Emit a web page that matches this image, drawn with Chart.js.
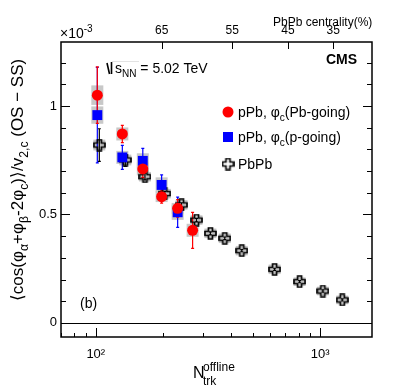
<!DOCTYPE html>
<html>
<head>
<meta charset="utf-8">
<script src="https://cdn.jsdelivr.net/npm/chart.js@4.4.0/dist/chart.umd.min.js"></script>
<style>
  html, body { margin: 0; padding: 0; background: #fff; }
  canvas { display: block; }
</style>
</head>
<body>
<canvas id="chart" width="399" height="390"></canvas>
<script>
// pPb, phi_c in Pb-going direction
const pbGoingN = [101.6, 131.3, 162, 196.5, 231.6, 270]
const pbGoingV = [1.05, 0.871, 0.71, 0.582, 0.528, 0.427]
const pbGoingStat = [0.13, 0.04, 0.04, 0.03, 0.04, 0.083]
const pbGoingSys = [0.045, 0.03, 0.03, 0.025, 0.025, 0.03]

// pPb, phi_c in p-going direction
const pGoingN = [101.6, 131.3, 162, 196.5, 231.6]
const pGoingV = [0.958, 0.763, 0.747, 0.636, 0.51]
const pGoingStat = [0.22, 0.055, 0.058, 0.046, 0.07]
const pGoingSys = [0.04, 0.03, 0.035, 0.035, 0.035]

// PbPb
const pbpbN = [103.7, 135.4, 165.6, 203, 241, 281, 324, 375.5, 447, 626, 809, 1027, 1253]
const pbpbV = [0.82, 0.751, 0.674, 0.596, 0.544, 0.474, 0.413, 0.39, 0.333, 0.247, 0.19, 0.147, 0.106]
const pbpbStat = [0.075, 0.03, 0.015, 0.01, 0.01, 0.008, 0.007, 0.006, 0.005, 0.005, 0.005, 0.005, 0.005]
const pbpbSys = [0.025, 0.025, 0.022, 0.022, 0.022, 0.022, 0.022, 0.022, 0.022, 0.022, 0.02, 0.02, 0.02]

// top axis: PbPb centrality
const centralityN = [196.5, 405, 718, 1142]
const centralityLabels = ['65', '55', '45', '35']

const yTicks = [0, 0.5, 1]
const xTicks = [100, 1000]
const xTickLabels = ['10²', '10³']

const FONT = '"Liberation Sans", Arial, Helvetica, sans-serif'
Chart.defaults.font.family = FONT
Chart.defaults.color = '#000'

function plusMarker(size, arm) {
  const c = document.createElement('canvas')
  c.width = size + 2
  c.height = size + 2
  const g = c.getContext('2d')
  const o = 1, a = (size - arm) / 2
  g.beginPath()
  g.moveTo(o + a, o); g.lineTo(o + a + arm, o); g.lineTo(o + a + arm, o + a)
  g.lineTo(o + size, o + a); g.lineTo(o + size, o + a + arm); g.lineTo(o + a + arm, o + a + arm)
  g.lineTo(o + a + arm, o + size); g.lineTo(o + a, o + size); g.lineTo(o + a, o + a + arm)
  g.lineTo(o, o + a + arm); g.lineTo(o, o + a); g.lineTo(o + a, o + a)
  g.closePath()
  g.lineWidth = 1.7
  g.strokeStyle = '#000'
  g.stroke()
  return c
}
const plus = plusMarker(11, 4)

const series = [
  { n: pbGoingN, v: pbGoingV, stat: pbGoingStat, sys: pbGoingSys, color: '#ff0000' },
  { n: pGoingN, v: pGoingV, stat: pGoingStat, sys: pGoingSys, color: '#0000ff' },
  { n: pbpbN, v: pbpbV, stat: pbpbStat, sys: pbpbSys, color: '#000000' }
]

function pts(n, v) { return n.map((x, i) => ({ x, y: v[i] })) }

// rich text: parts = [[text, 'sub'|'sup'|'', size?]]
function drawRich(ctx, parts, x, y, size) {
  for (const [t, s, fsz] of parts) {
    const fs = fsz || (s ? size * 0.72 : size)
    ctx.font = fs + 'px ' + FONT
    const dy = s === 'sub' ? size * 0.3 : s === 'sup' ? -size * 0.42 : 0
    ctx.fillText(t, x, y + dy)
    x += ctx.measureText(t).width
  }
  return x
}
function richWidth(ctx, parts, size) {
  let w = 0
  for (const [t, s, fsz] of parts) {
    ctx.font = (fsz || (s ? size * 0.72 : size)) + 'px ' + FONT
    w += ctx.measureText(t).width
  }
  return w
}

const boxesAndErrors = {
  id: 'boxesAndErrors',
  beforeDatasetsDraw(chart) {
    const { ctx, scales: { x, y } } = chart
    ctx.save()
    ctx.fillStyle = '#c8c8c8'
    for (const s of series.slice().reverse()) {
      s.n.forEach((n, i) => {
        const px = x.getPixelForValue(n)
        const top = y.getPixelForValue(s.v[i] + s.sys[i])
        const bot = y.getPixelForValue(s.v[i] - s.sys[i])
        ctx.fillRect(px - 6, top, 12, bot - top)
      })
    }
    ctx.lineWidth = 1.2
    for (const s of series.slice().reverse()) {
      ctx.strokeStyle = s.color
      s.n.forEach((n, i) => {
        const px = x.getPixelForValue(n)
        const top = y.getPixelForValue(s.v[i] + s.stat[i])
        const bot = y.getPixelForValue(s.v[i] - s.stat[i])
        ctx.beginPath()
        ctx.moveTo(px, top); ctx.lineTo(px, bot)
        ctx.moveTo(px - 1.5, top); ctx.lineTo(px + 1.5, top)
        ctx.moveTo(px - 1.5, bot); ctx.lineTo(px + 1.5, bot)
        ctx.stroke()
      })
    }
    ctx.restore()
  }
}

const frameAndText = {
  id: 'frameAndText',
  afterDraw(chart) {
    const { ctx, chartArea: a, scales: { x, y } } = chart
    ctx.save()
    ctx.strokeStyle = '#000'
    ctx.fillStyle = '#000'
    // zero line
    ctx.lineWidth = 1.2
    const y0 = Math.round(y.getPixelForValue(0)) + 0.5
    ctx.beginPath(); ctx.moveTo(a.left, y0); ctx.lineTo(a.right, y0); ctx.stroke()
    // ticks
    ctx.lineWidth = 1
    ctx.beginPath()
    for (let k = 0; k <= 12; k++) {
      const v = k / 10
      const py = Math.round(y.getPixelForValue(v)) + 0.5
      const len = k % 5 === 0 ? 9 : 5
      ctx.moveTo(a.left, py); ctx.lineTo(a.left + len, py)
      ctx.moveTo(a.right, py); ctx.lineTo(a.right - len, py)
    }
    for (let d = 10; d <= 1000; d *= 10) {
      for (let m = 1; m <= 9; m++) {
        const v = d * m
        if (v < x.min || v > x.max) continue
        const px = Math.round(x.getPixelForValue(v)) + 0.5
        const len = m === 1 ? 9 : 4
        ctx.moveTo(px, a.bottom); ctx.lineTo(px, a.bottom - len)
      }
    }
    for (const c of centralityN) {
      const px = Math.round(x.getPixelForValue(c)) + 0.5
      ctx.moveTo(px, a.top); ctx.lineTo(px, a.top + 7)
    }
    ctx.stroke()
    // frame
    ctx.lineWidth = 1.5
    ctx.strokeRect(a.left, a.top, a.right - a.left, a.bottom - a.top)

    ctx.textBaseline = 'alphabetic'
    ctx.textAlign = 'left'
    // x10^-3
    drawRich(ctx, [['×10', ''], ['-3', 'sup', 10]], 60, 38, 14)
    // centrality title
    ctx.font = '12px ' + FONT
    ctx.fillText('PbPb centrality(%)', 273, 26)
    // CMS
    ctx.font = 'bold 14px ' + FONT
    ctx.fillText('CMS', 326, 64)
    // sqrt(sNN)
    ctx.lineWidth = 1.6
    ctx.beginPath()
    ctx.moveTo(107, 63); ctx.lineTo(109.5, 74); ctx.moveTo(111.5, 62); ctx.lineTo(111.5, 74)
    ctx.stroke()
    ctx.lineWidth = 0.6
    ctx.strokeStyle = '#d0d0d0'
    ctx.beginPath(); ctx.moveTo(112, 61.5); ctx.lineTo(139, 61.5); ctx.stroke()
    ctx.strokeStyle = '#000'
    drawRich(ctx, [['s', ''], ['NN', 'sub', 10], [' = 5.02 TeV', '']], 115, 73, 14)
    // (b)
    ctx.font = '14px ' + FONT
    ctx.fillText('(b)', 80, 308)
    // legend
    ctx.fillStyle = '#ff0000'
    ctx.beginPath(); ctx.arc(228, 112, 5.5, 0, Math.PI * 2); ctx.fill()
    ctx.fillStyle = '#0000ff'
    ctx.fillRect(223, 132, 10, 10)
    ctx.drawImage(plus, 228 - plus.width / 2, 164 - plus.height / 2)
    ctx.fillStyle = '#000'
    drawRich(ctx, [['pPb, φ', ''], ['c', 'sub'], ['(Pb-going)', '']], 238, 117, 14)
    drawRich(ctx, [['pPb, φ', ''], ['c', 'sub'], ['(p-going)', '']], 238, 142, 14)
    drawRich(ctx, [['PbPb', '']], 238, 169, 14)
    // x title
    drawRich(ctx, [['N', '', 16]], 193, 378, 16)
    drawRich(ctx, [['offline', '', 12]], 203, 371, 12)
    drawRich(ctx, [['trk', '', 12]], 203, 385, 12)
    // y title
    const yParts = [['⟨cos(φ', ''], ['α', 'sub'], ['+φ', ''], ['β', 'sub'], ['-2φ', ''], ['c', 'sub'],
      [')⟩/v', ''], ['2,c', 'sub'], [' (OS − SS)', '']]
    const ys = 17
    const w = richWidth(ctx, yParts, ys)
    ctx.translate(23, 180)
    ctx.rotate(-Math.PI / 2)
    drawRich(ctx, yParts, -w / 2, 0, ys)
    ctx.restore()
  }
}

new Chart(document.getElementById('chart'), {
  type: 'scatter',
  data: {
    datasets: [
      { label: 'pPb, φc(Pb-going)', data: pts(pbGoingN, pbGoingV), pointStyle: 'circle', pointRadius: 5.5,
        backgroundColor: '#ff0000', borderColor: '#ff0000', borderWidth: 0 },
      { label: 'pPb, φc(p-going)', data: pts(pGoingN, pGoingV), pointStyle: 'rect', pointRadius: 7,
        backgroundColor: '#0000ff', borderColor: '#0000ff', borderWidth: 0 },
      { label: 'PbPb', data: pts(pbpbN, pbpbV), pointStyle: plus, pointRadius: 6 }
    ]
  },
  options: {
    responsive: false,
    animation: false,
    events: [],
    layout: { padding: 0 },
    plugins: { legend: { display: false }, tooltip: { enabled: false } },
    scales: {
      x: {
        type: 'logarithmic', position: 'bottom', min: 70, max: 1700,
        afterFit: s => { s.height = 53 },
        afterBuildTicks: s => { s.ticks = xTicks.map(v => ({ value: v })) },
        grid: { display: false, drawTicks: false }, border: { display: false },
        ticks: { padding: 10, font: { size: 13 }, maxRotation: 0, autoSkip: false,
          callback: v => xTickLabels[xTicks.indexOf(v)] }
      },
      xTop: {
        type: 'logarithmic', position: 'top', min: 70, max: 1700,
        afterFit: s => { s.height = 42 },
        afterBuildTicks: s => { s.ticks = centralityN.map(v => ({ value: v })) },
        grid: { display: false, drawTicks: false }, border: { display: false },
        ticks: { padding: 4, font: { size: 12 }, maxRotation: 0, autoSkip: false,
          callback: v => centralityLabels[centralityN.indexOf(v)] }
      },
      y: {
        type: 'linear', position: 'left', min: -0.065, max: 1.295,
        afterFit: s => { s.width = 61 },
        afterBuildTicks: s => { s.ticks = yTicks.map(v => ({ value: v })) },
        grid: { display: false, drawTicks: false }, border: { display: false },
        ticks: { padding: 4, font: { size: 13 }, callback: v => String(v) }
      },
      yRight: {
        type: 'linear', position: 'right', min: -0.065, max: 1.295,
        afterFit: s => { s.width = 27 },
        grid: { display: false, drawTicks: false }, border: { display: false },
        ticks: { display: false }
      }
    }
  },
  plugins: [boxesAndErrors, frameAndText]
})
</script>
</body>
</html>
